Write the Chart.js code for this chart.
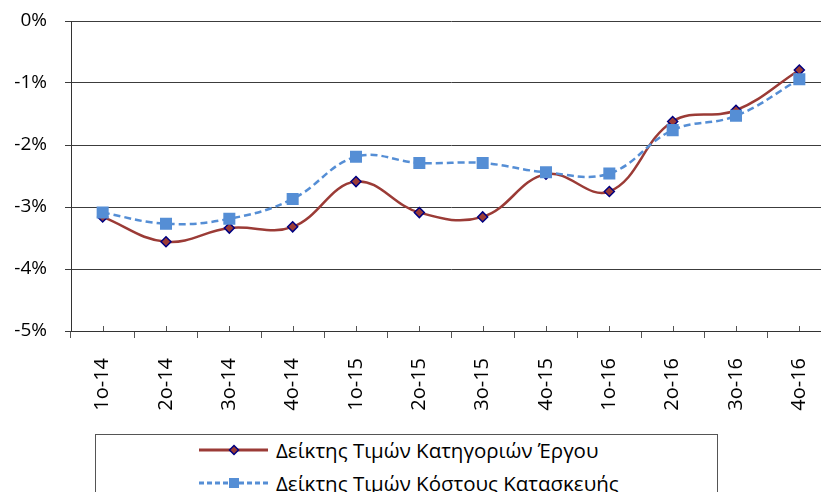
<!DOCTYPE html>
<html>
<head>
<meta charset="utf-8">
<script src="https://cdn.jsdelivr.net/npm/chart.js@4"></script>
<style>
  html, body { margin: 0; padding: 0; background: #fff; overflow: hidden; }
  #wrap { position: relative; width: 832px; height: 492px; }
  #chart { position: absolute; left: 0; top: 0; }
  #legend {
    position: absolute; left: 95px; top: 434px; width: 623px; height: 80px;
    border: 1px solid #555; box-sizing: border-box;
    font-family: "Open Sans", sans-serif; font-size: 20.5px; color: #000;
  }
  .row { position: absolute; left: 103px; height: 30px; display: flex; align-items: center; white-space: nowrap; }
  .row svg { margin-right: 8px; }
</style>
</head>
<body>
<div id="wrap">
  <canvas id="chart" width="832" height="420"></canvas>
  <div id="legend">
    <div class="row" style="top:0px">
      <svg width="69" height="14"><line x1="0" y1="7" x2="69" y2="7" stroke="#9B3B36" stroke-width="3"/><polygon points="35,2.5 39.5,7 35,11.5 30.5,7" fill="#9B3B36" stroke="#000080" stroke-width="1.5"/></svg>
      <span>Δείκτης Τιμών Κατηγοριών Έργου</span>
    </div>
    <div class="row" style="top:33px">
      <svg width="69" height="14"><line x1="0" y1="7" x2="69" y2="7" stroke="#558ED5" stroke-width="3" stroke-dasharray="5,3"/><rect x="30" y="2" width="10" height="10" fill="#558ED5"/></svg>
      <span>Δείκτης Τιμών Κόστους Κατασκευής</span>
    </div>
  </div>
</div>
<script>
const categories = ['1ο-14', '2ο-14', '3ο-14', '4ο-14', '1ο-15', '2ο-15', '3ο-15', '4ο-15', '1ο-16', '2ο-16', '3ο-16', '4ο-16'];
const workCategoryIndex = [-3.16, -3.56, -3.34, -3.32, -2.59, -3.09, -3.16, -2.47, -2.75, -1.62, -1.44, -0.79];
const constructionCostIndex = [-3.09, -3.27, -3.19, -2.87, -2.19, -2.29, -2.29, -2.44, -2.46, -1.76, -1.53, -0.94];
const seriesNames = ['Δείκτης Τιμών Κατηγοριών Έργου', 'Δείκτης Τιμών Κόστους Κατασκευής'];

Chart.defaults.font.family = '"Open Sans", sans-serif';
Chart.defaults.color = '#000';

// small ticks pointing up into the plot at each category centre
const innerTicks = {
  id: 'innerTicks',
  beforeDatasetsDraw(chart) {
    const { ctx, chartArea } = chart;
    const x = chart.scales.x;
    ctx.save();
    ctx.strokeStyle = '#555';
    ctx.lineWidth = 1;
    categories.forEach((c, i) => {
      const px = Math.round(x.getPixelForValue(i)) + 0.5;
      ctx.beginPath();
      ctx.moveTo(px, chartArea.bottom - 5);
      ctx.lineTo(px, chartArea.bottom);
      ctx.stroke();
    });
    ctx.restore();
  }
};

new Chart(document.getElementById('chart').getContext('2d'), {
  type: 'line',
  data: {
    labels: categories,
    datasets: [
      {
        label: seriesNames[0],
        data: workCategoryIndex,
        borderColor: '#9B3B36',
        borderWidth: 2.5,
        tension: 0.4,
        pointStyle: 'rectRot',
        pointRadius: 5,
        pointBackgroundColor: '#9B3B36',
        pointBorderColor: '#000080',
        pointBorderWidth: 1.5,
        order: 1
      },
      {
        label: seriesNames[1],
        data: constructionCostIndex,
        borderColor: '#558ED5',
        borderWidth: 2.5,
        borderDash: [7, 4],
        tension: 0.4,
        pointStyle: 'rect',
        pointRadius: 8.5,
        pointBackgroundColor: '#558ED5',
        pointBorderColor: '#558ED5',
        pointBorderWidth: 0,
        order: 0
      }
    ]
  },
  options: {
    responsive: false,
    animation: false,
    layout: { autoPadding: false, padding: { top: 21, right: 1, left: 0, bottom: 0 } },
    plugins: { legend: { display: false }, tooltip: { enabled: false } },
    scales: {
      x: {
        offset: true,
        grid: { drawOnChartArea: false, tickLength: 7, color: '#555', offset: true },
        border: { color: '#333', width: 1 },
        ticks: { minRotation: 90, maxRotation: 90, padding: 20, font: { size: 20 } },
        afterFit(scale) {
          scale.height = 89;
          scale.paddingLeft = 0;
          scale.paddingRight = 0;
        }
      },
      y: {
        min: -5,
        max: 0,
        grid: { color: '#3c3c3c', tickLength: 6 },
        border: { color: '#333', width: 1 },
        ticks: {
          stepSize: 1,
          padding: 18,
          font: { size: 19 },
          callback: v => v + '%'
        },
        afterFit(scale) {
          scale.width = 71;
          scale.paddingTop = 0;
          scale.paddingBottom = 0;
        }
      }
    }
  },
  plugins: [innerTicks]
});
</script>
</body>
</html>
